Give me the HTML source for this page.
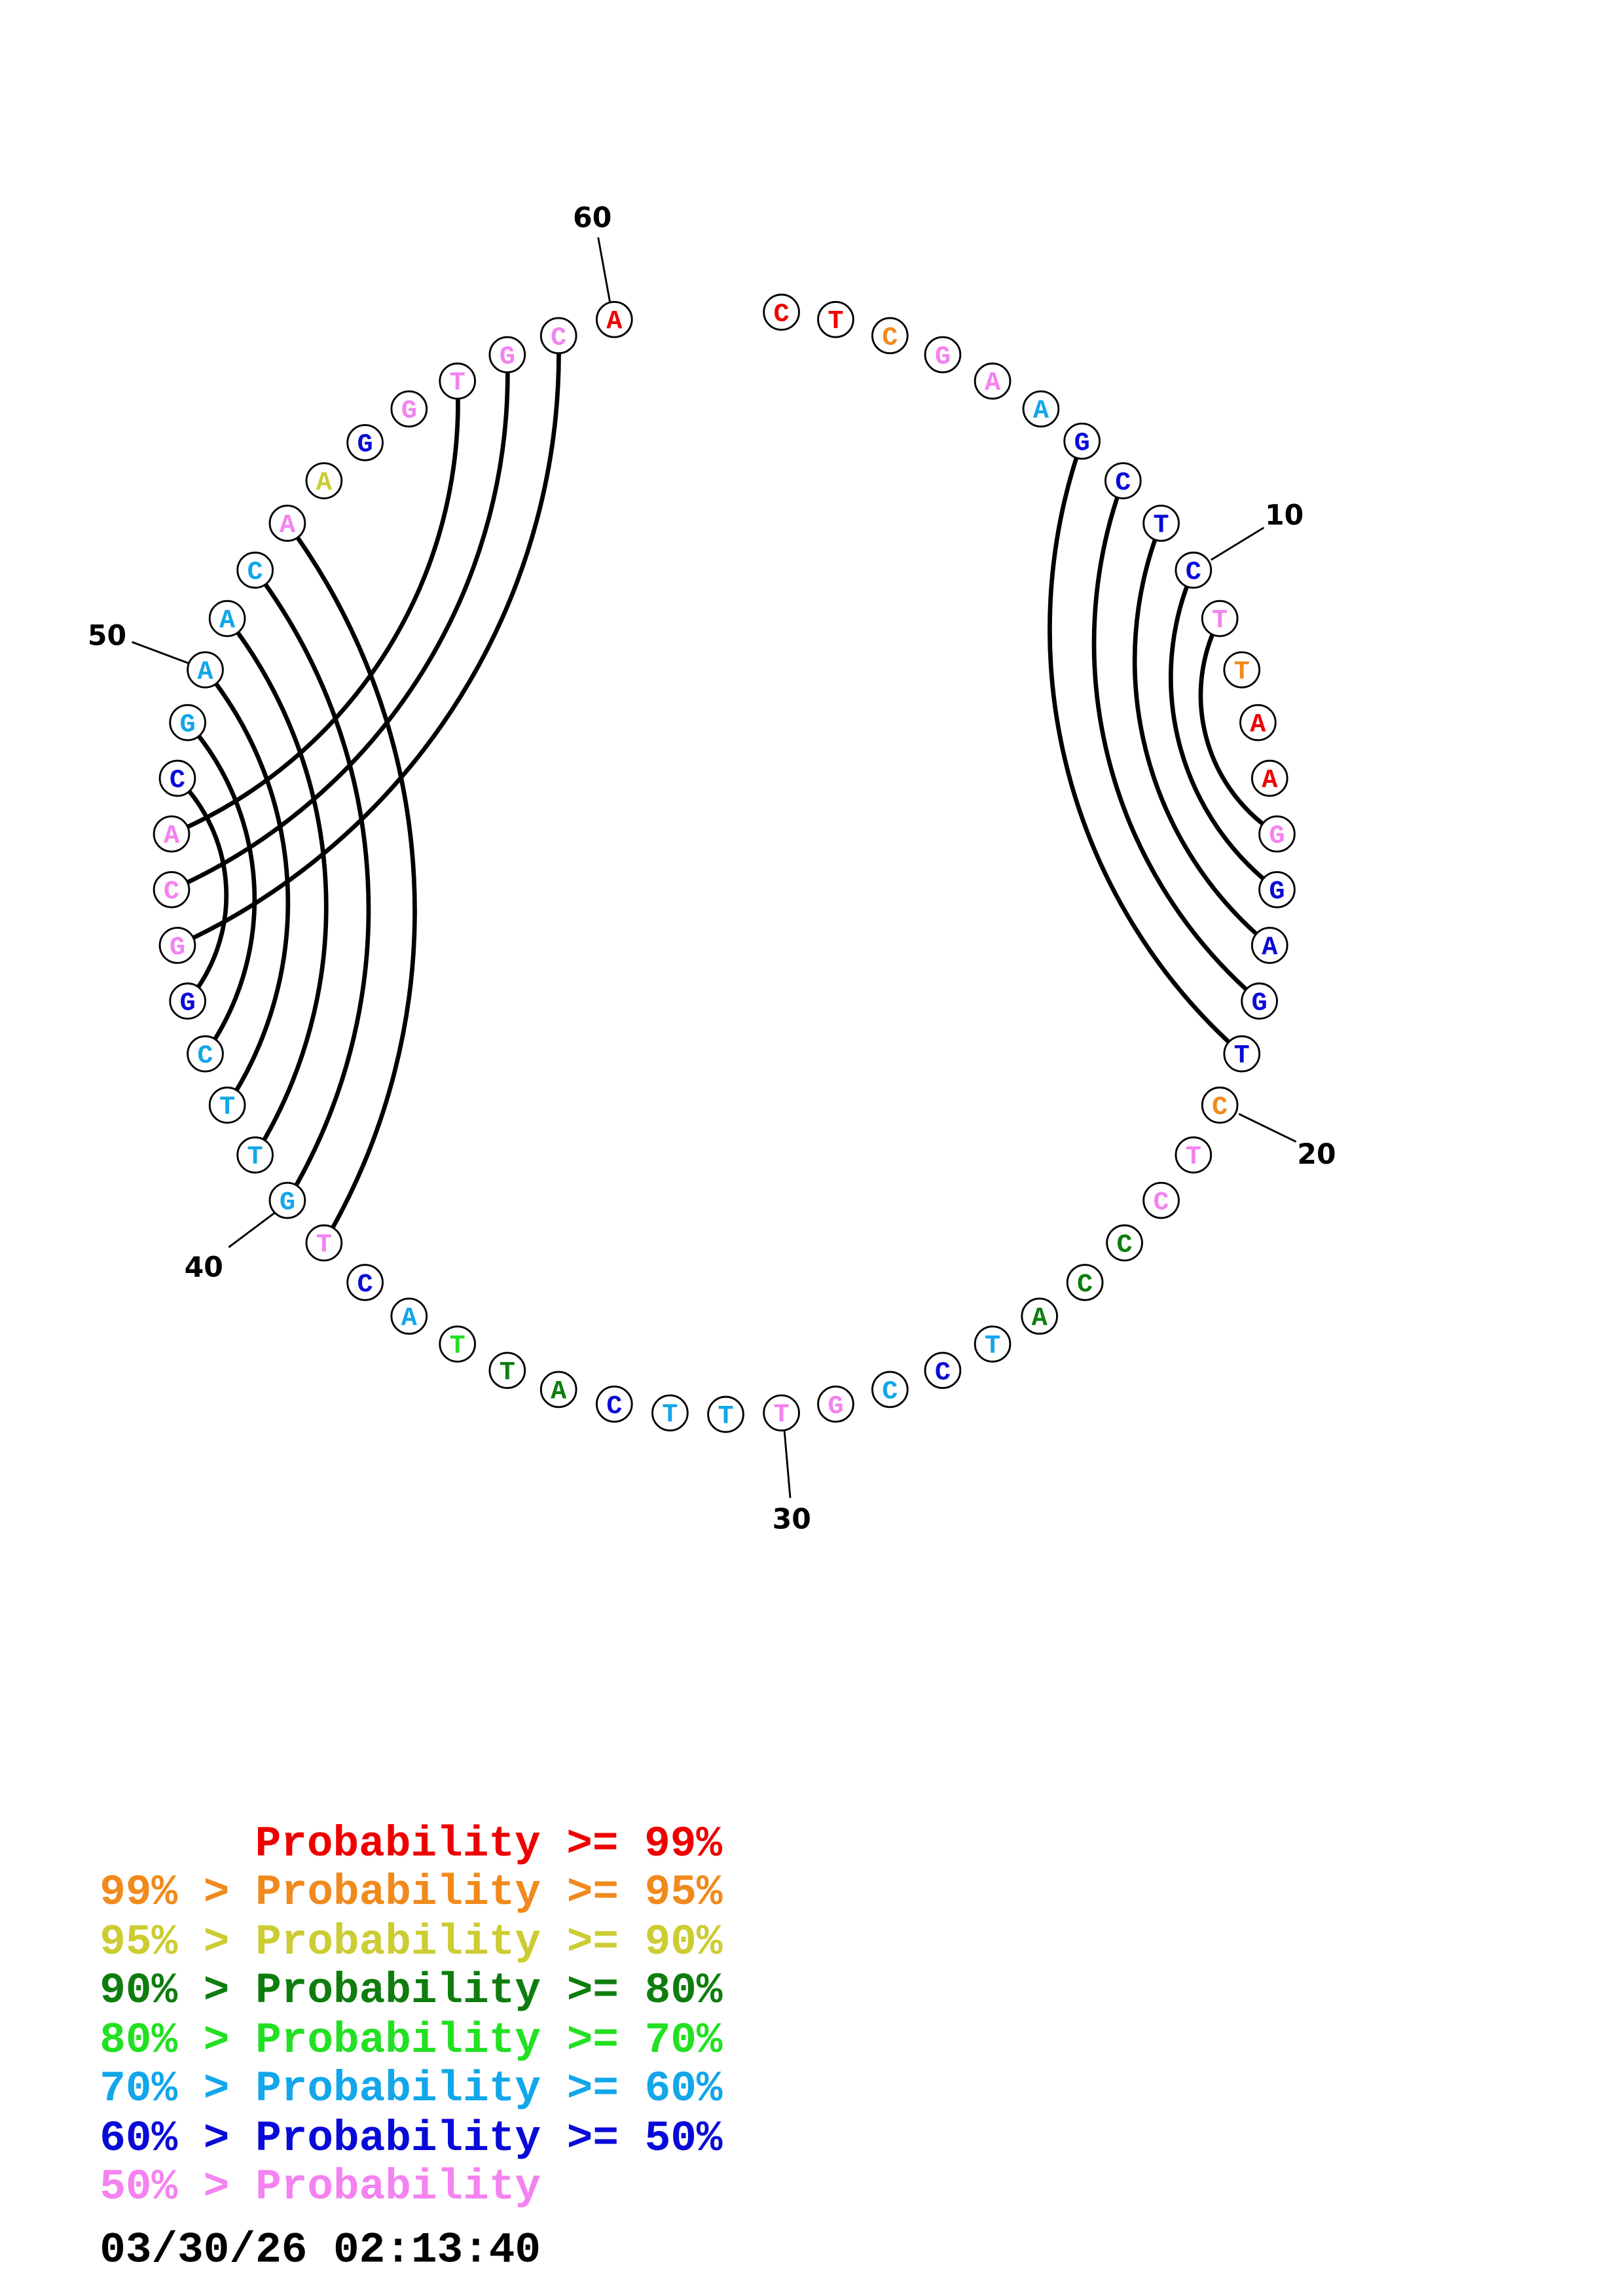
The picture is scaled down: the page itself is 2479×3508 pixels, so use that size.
<!DOCTYPE html>
<html><head><meta charset="utf-8"><style>
html,body{margin:0;padding:0;background:#fff;}
svg{display:block}
.n{font-family:"Liberation Mono",monospace;font-weight:bold;font-size:18px;text-anchor:middle}
.t{font-family:"DejaVu Sans","Liberation Sans",sans-serif;font-weight:bold;font-size:19px;text-anchor:middle}
.l{font-family:"Liberation Mono",monospace;font-weight:bold;font-size:29.5px;white-space:pre}
</style></head><body>
<svg id="s" width="2479" height="3508" viewBox="0 0 1107 1566.5" xmlns="http://www.w3.org/2000/svg">
<g stroke="#000" stroke-width="1.3">
<line x1="408" y1="162" x2="416" y2="206"/>
<line x1="862" y1="360" x2="826" y2="382"/>
<line x1="90" y1="438" x2="130" y2="453"/>
<line x1="845" y1="760" x2="884" y2="779"/>
<line x1="156" y1="851" x2="188" y2="827"/>
<line x1="535" y1="976" x2="539" y2="1022"/>
</g>
<text class="t" x="404" y="155">60</text>
<text class="t" x="876" y="358">10</text>
<text class="t" x="73" y="440">50</text>
<text class="t" x="898" y="794">20</text>
<text class="t" x="139" y="871">40</text>
<text class="t" x="540" y="1043">30</text>
<g id="arcs" fill="none" stroke="#000" stroke-width="3"></g>
<g id="nodes"></g>
<g class="l">
<text x="174" y="1266" fill="#ee0000">Probability &gt;= 99%</text>
<text x="68" y="1299" fill="#f08a1c">99% &gt; Probability &gt;= 95%</text>
<text x="68" y="1333" fill="#cccc33">95% &gt; Probability &gt;= 90%</text>
<text x="68" y="1366" fill="#0e7d0e">90% &gt; Probability &gt;= 80%</text>
<text x="68" y="1400" fill="#22e022">80% &gt; Probability &gt;= 70%</text>
<text x="68" y="1433" fill="#12a6ea">70% &gt; Probability &gt;= 60%</text>
<text x="68" y="1467" fill="#0a0ad8">60% &gt; Probability &gt;= 50%</text>
<text x="68" y="1500" fill="#f482f0">50% &gt; Probability</text>
<text x="68" y="1543" fill="#000">03/30/26 02:13:40</text>
</g>
</svg>
<script>
var C={r:"#ee0000",o:"#f08a1c",y:"#cccc33",d:"#0e7d0e",g:"#22e022",l:"#12a6ea",b:"#0a0ad8",p:"#f482f0"};
var N=[["C","r",533,213],["T","r",570,218],["C","o",607,229],["G","p",643,242],["A","p",677,260],["A","l",710,279],["G","b",738,301],["C","b",766,328],["T","b",792,357],["C","b",814,389],
["T","p",832,422],["T","o",847,457],["A","r",858,493],["A","r",866,531],["G","p",871,569],["G","b",871,607],["A","b",866,645],["G","b",859,683],["T","b",847,719],["C","o",832,754],
["T","p",814,788],["C","p",792,819],["C","d",767,848],["C","d",740,875],["A","d",709,898],["T","l",677,917],["C","b",643,935],["C","l",607,948],["G","p",570,958],["T","p",533,964],
["T","l",495,965],["T","l",457,964],["C","b",419,958],["A","d",381,948],["T","d",346,935],["T","g",312,917],["A","l",279,898],["C","b",249,875],["T","p",221,848],["G","l",196,819],
["T","l",174,788],["T","l",155,754],["C","l",140,719],["G","b",128,683],["G","p",121,645],["C","p",117,607],["A","p",117,569],["C","b",121,531],["G","l",128,493],["A","l",140,457],
["A","l",155,422],["C","l",174,389],["A","p",196,357],["A","y",221,328],["G","b",249,302],["G","p",279,279],["T","p",312,260],["G","p",346,242],["C","p",381,229],["A","r",419,218]];
var P=[[7,19],[8,18],[9,17],[10,16],[11,15],[39,53],[40,52],[41,51],[42,50],[43,49],[44,48],[45,59],[46,58],[47,57]];
var cx=494,cy=589,ns="http://www.w3.org/2000/svg";
var ag=document.getElementById("arcs"),ng=document.getElementById("nodes");
P.forEach(function(p){
 var a=N[p[0]-1],b=N[p[1]-1];
 var c=Math.hypot(b[2]-a[2],b[3]-a[3]);
 var s=10+0.13*c;
 var r=(s*s+c*c/4)/(2*s);
 var mx=(a[2]+b[2])/2,my=(a[3]+b[3])/2;
 var nx=-(b[3]-a[3])/c,ny=(b[2]-a[2])/c;
 if(nx*(cx-mx)+ny*(cy-my)<0){nx=-nx;ny=-ny;}
 var cr=(b[2]-a[2])*ny-(b[3]-a[3])*nx;
 var e=document.createElementNS(ns,"path");
 e.setAttribute("d","M"+a[2]+","+a[3]+" A"+r+","+r+" 0 0,"+(cr>0?0:1)+" "+b[2]+","+b[3]);
 ag.appendChild(e);
});
N.forEach(function(n){
 var c=document.createElementNS(ns,"circle");
 c.setAttribute("cx",n[2]);c.setAttribute("cy",n[3]);c.setAttribute("r",12);
 c.setAttribute("fill","#fff");c.setAttribute("stroke","#000");c.setAttribute("stroke-width","1.3");
 ng.appendChild(c);
 var t=document.createElementNS(ns,"text");
 t.setAttribute("class","n");t.setAttribute("x",n[2]);t.setAttribute("y",n[3]+6);
 t.setAttribute("fill",C[n[1]]);t.textContent=n[0];ng.appendChild(t);
});
</script>
</body></html>
